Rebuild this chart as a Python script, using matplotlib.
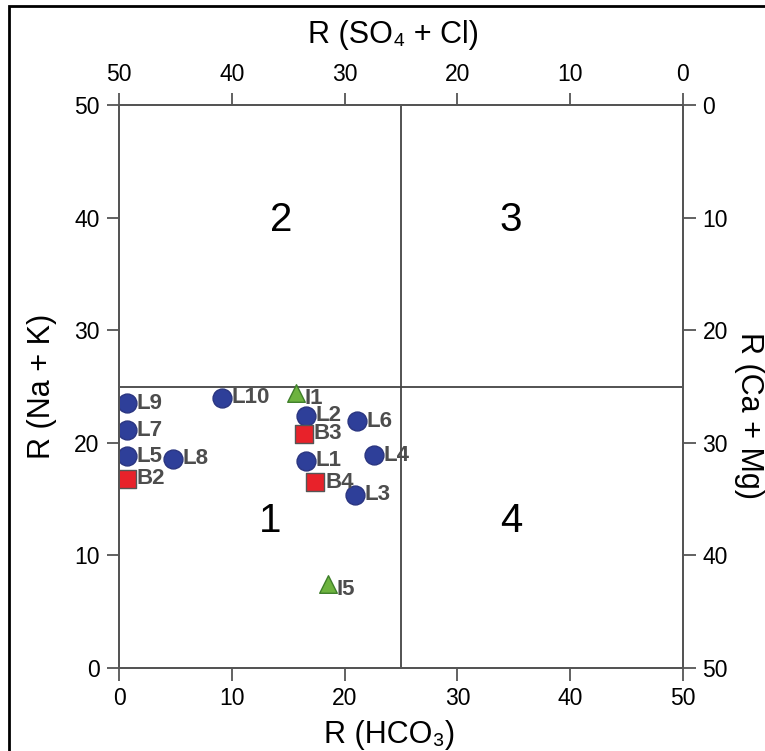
import matplotlib.pyplot as plt
import matplotlib.patches as patches

plt.rcParams['font.family'] = ['Liberation Sans', 'DejaVu Sans']

# --- data ---
l_names = ["L1", "L2", "L3", "L4", "L5", "L6", "L7", "L8", "L9", "L10"]
l_x = [16.6, 16.6, 20.9, 22.6, 0.7, 21.1, 0.7, 4.8, 0.7, 9.1]
l_y = [18.4, 22.4, 15.4, 18.9, 18.8, 21.9, 21.1, 18.6, 23.5, 24.0]

b_names = ["B2", "B3", "B4"]
b_x = [0.7, 16.4, 17.4]
b_y = [16.8, 20.8, 16.5]

i_names = ["I1", "I5"]
i_x = [15.7, 18.5]
i_y = [24.4, 7.5]

zone_names = ["1", "2", "3", "4"]
zone_x = [13.4, 14.4, 34.7, 34.8]
zone_y = [13.1, 39.8, 39.8, 13.1]

ticks = [0, 10, 20, 30, 40, 50]
split = 25

# --- figure ---
fig = plt.figure(figsize=(7.65, 7.51), dpi=100)
ax = fig.add_axes([0.1556, 0.1105, 0.7372, 0.7497])
ax.set_xlim(0, 50)
ax.set_ylim(0, 50)

axis_col = "#555555"
tick_kw = dict(direction="out", length=9, width=1.3, color=axis_col,
               labelsize=16.5, pad=5)

ax.set_xticks(ticks)
ax.set_yticks(ticks)
ax.tick_params(**tick_kw)

ax_top = ax.twiny()
ax_top.set_xlim(50, 0)
ax_top.set_xticks(ticks)
ax_top.tick_params(**tick_kw)

ax_right = ax.twinx()
ax_right.set_ylim(50, 0)
ax_right.set_yticks(ticks)
ax_right.tick_params(**tick_kw)

for a in [ax, ax_top, ax_right]:
    for s in a.spines.values():
        s.set_color(axis_col)
        s.set_linewidth(1.3)

# quadrant split lines
ax.axvline(split, color="#444444", lw=1.3)
ax.axhline(split, color="#444444", lw=1.3)

# zone numbers
for name, x, y in zip(zone_names, zone_x, zone_y):
    ax.text(x, y, name, fontsize=29, ha="center", va="center")

lab_col = "#4d4d4d"
ax.scatter(l_x, l_y, s=185, marker="o", color="#2E3F99",
           edgecolor="#2a3580", zorder=3)
for n, x, y in zip(l_names, l_x, l_y):
    ax.annotate(n, (x, y), xytext=(7, 0), textcoords="offset points",
                ha="left", va="center", fontsize=16, fontweight="bold",
                color=lab_col, zorder=4)

ax.scatter(b_x, b_y, s=160, marker="s", color="#E8222A",
           edgecolor="#555555", linewidth=1, zorder=3)
for n, x, y in zip(b_names, b_x, b_y):
    ax.annotate(n, (x, y), xytext=(7, 0), textcoords="offset points",
                ha="left", va="center", fontsize=16, fontweight="bold",
                color=lab_col, zorder=4)

ax.scatter(i_x, i_y, s=160, marker="^", color="#6DB33F",
           edgecolor="#3f7f2a", linewidth=1, zorder=3)
for n, x, y in zip(i_names, i_x, i_y):
    ax.annotate(n, (x, y), xytext=(6, -4), textcoords="offset points",
                ha="left", va="center", fontsize=16, fontweight="bold",
                color=lab_col, zorder=4)

# axis titles
fig.text(393 / 765, 1 - 35 / 751, "R (SO₄ + Cl)", fontsize=22,
         ha="center", va="center")
fig.text(390 / 765, 1 - 735 / 751, "R (HCO₃)", fontsize=22,
         ha="center", va="center")
fig.text(42 / 765, 1 - 386 / 751, "R (Na + K)", fontsize=22,
         ha="center", va="center", rotation=90)
fig.text(749 / 765, 1 - 415 / 751, "R (Ca + Mg)", fontsize=22,
         ha="center", va="center", rotation=270)

# outer frame, cut by the image edge on the right and bottom
frame = patches.Rectangle((9 / 765, -0.1), 2, 1.1 - 6 / 751,
                          transform=fig.transFigure, fill=False,
                          edgecolor="black", linewidth=2, clip_on=False)
fig.patches.append(frame)

fig.savefig("out.png", dpi=100)
